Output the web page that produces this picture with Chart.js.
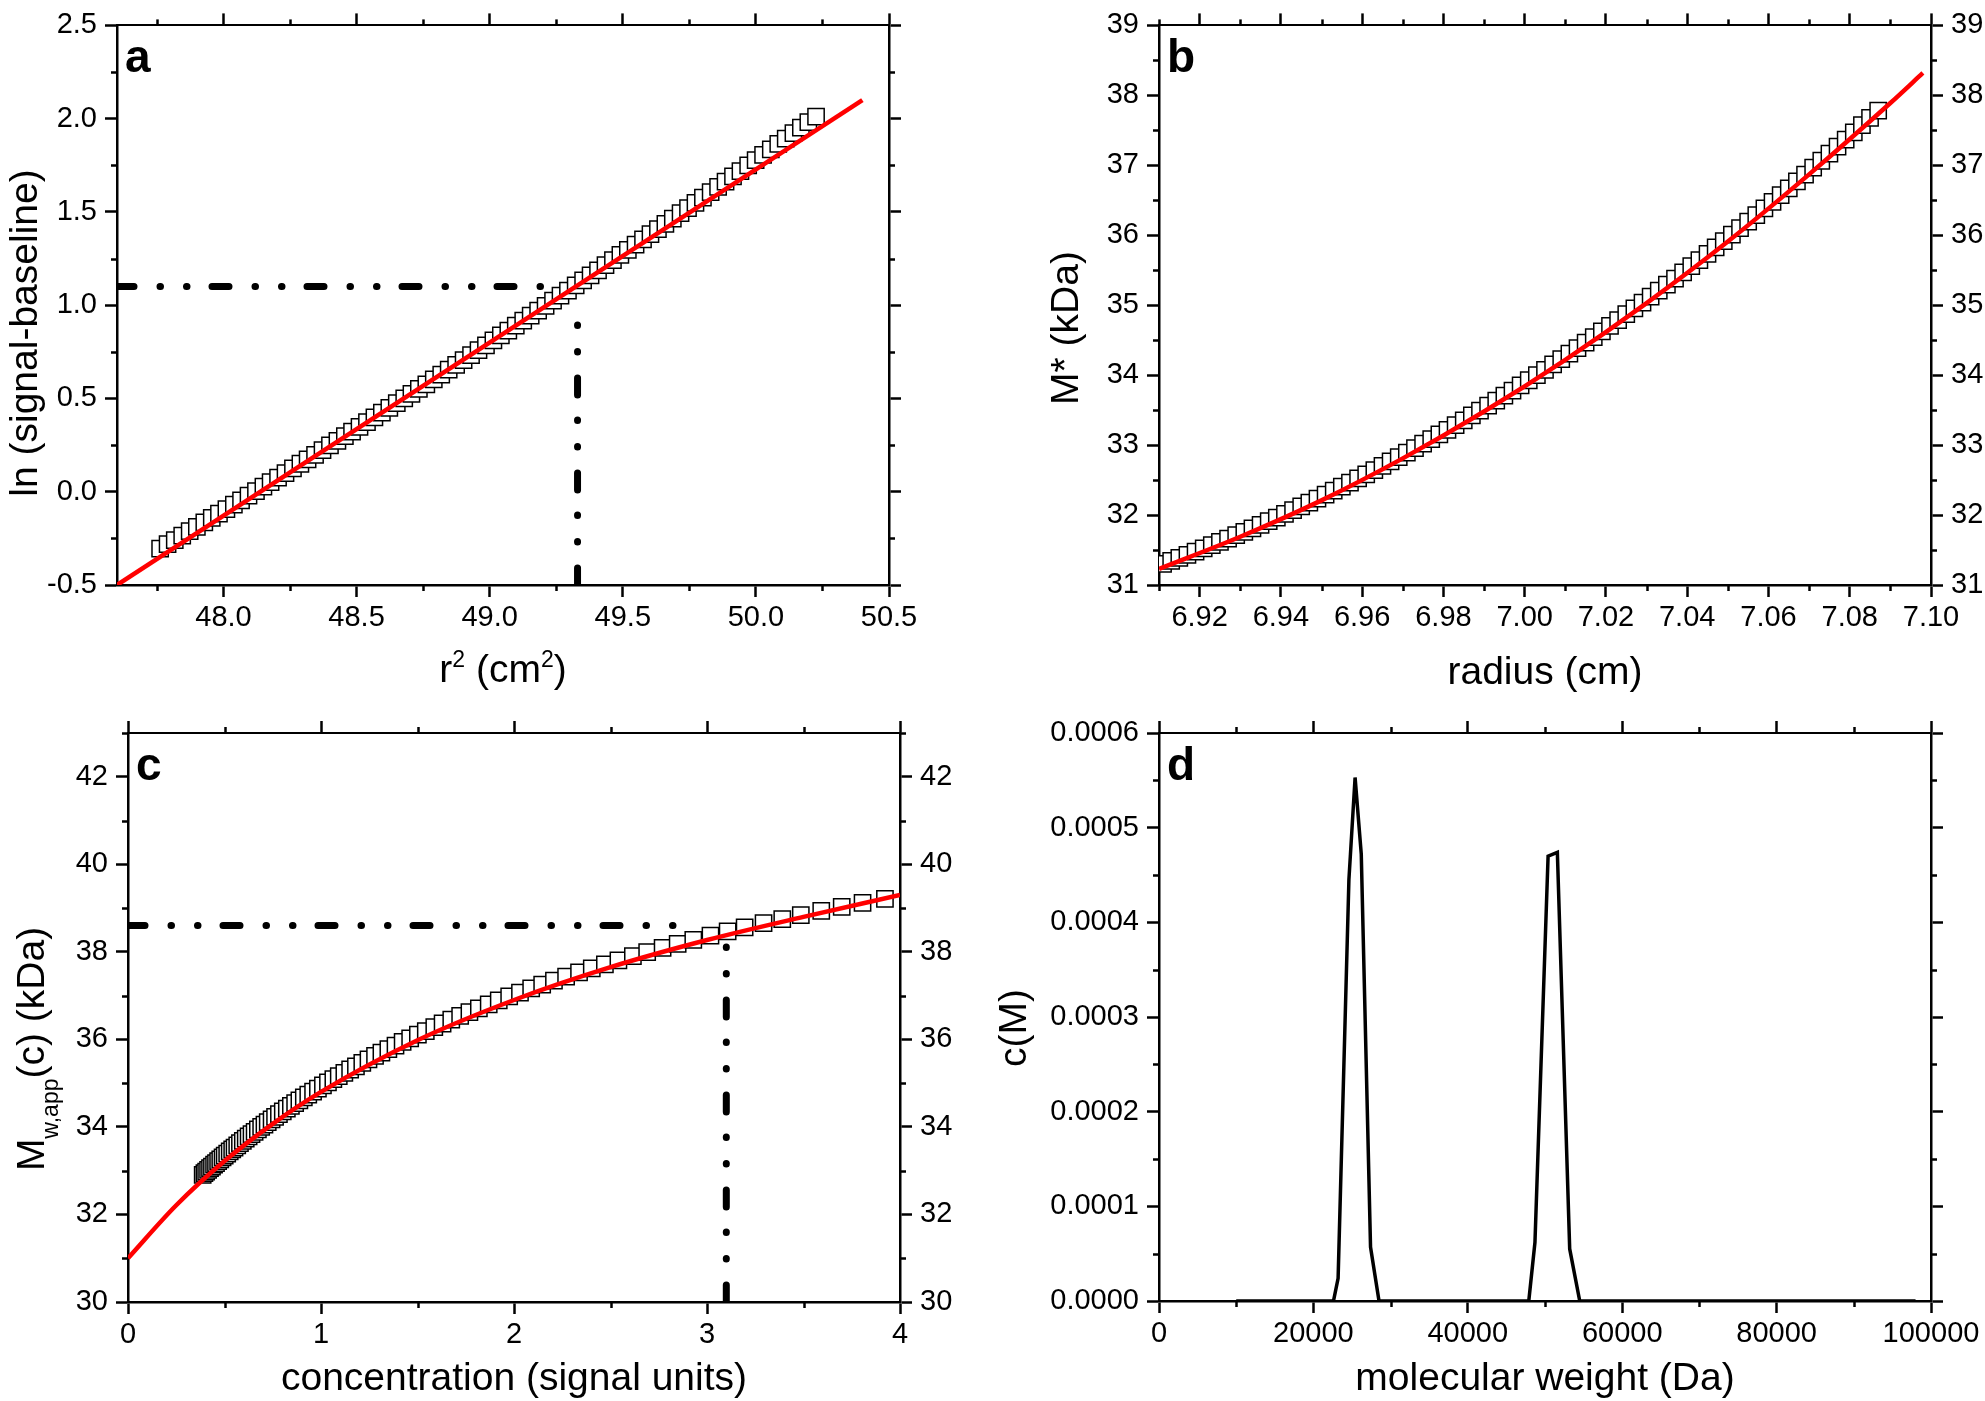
<!DOCTYPE html>
<html>
<head>
<meta charset="utf-8">
<script src="https://cdn.jsdelivr.net/npm/chart.js@4.4.1/dist/chart.umd.min.js"></script>
<style>
  html, body { margin: 0; padding: 0; background: #fff; }
  body { width: 1985px; height: 1401px; position: relative; overflow: hidden; }
  canvas { position: absolute; }
</style>
</head>
<body>
<canvas id="chartA" width="992" height="700" style="left:0;top:0"></canvas>
<canvas id="chartB" width="993" height="700" style="left:992px;top:0"></canvas>
<canvas id="chartC" width="992" height="701" style="left:0;top:700px"></canvas>
<canvas id="chartD" width="993" height="701" style="left:992px;top:700px"></canvas>
<script>
// ---- data ----
// scan points (same radial positions in a, b and c)
const radius = [
  6.911, 6.913, 6.915, 6.917, 6.919, 6.921, 6.923, 6.925, 6.927, 6.929,
  6.931, 6.933, 6.935, 6.937, 6.939, 6.941, 6.943, 6.945, 6.947, 6.949,
  6.951, 6.953, 6.955, 6.957, 6.959, 6.961, 6.963, 6.965, 6.967, 6.969,
  6.971, 6.973, 6.975, 6.977, 6.979, 6.981, 6.983, 6.985, 6.987, 6.989,
  6.991, 6.993, 6.995, 6.997, 6.999, 7.001, 7.003, 7.005, 7.007, 7.009,
  7.011, 7.013, 7.015, 7.017, 7.019, 7.021, 7.023, 7.025, 7.027, 7.029,
  7.031, 7.033, 7.035, 7.037, 7.039, 7.041, 7.043, 7.045, 7.047, 7.049,
  7.051, 7.053, 7.055, 7.057, 7.059, 7.061, 7.063, 7.065, 7.067, 7.069,
  7.071, 7.073, 7.075, 7.077, 7.079, 7.081, 7.083, 7.085, 7.087
];
const mStar = [
  31.302, 31.345, 31.388, 31.432, 31.477, 31.522, 31.569, 31.616, 31.663, 31.712,
  31.761, 31.811, 31.861, 31.912, 31.964, 32.017, 32.070, 32.124, 32.179, 32.235,
  32.291, 32.348, 32.405, 32.464, 32.523, 32.582, 32.643, 32.704, 32.766, 32.829,
  32.892, 32.956, 33.021, 33.086, 33.152, 33.219, 33.287, 33.355, 33.424, 33.494,
  33.564, 33.635, 33.707, 33.780, 33.853, 33.927, 34.002, 34.077, 34.153, 34.230,
  34.308, 34.386, 34.465, 34.545, 34.625, 34.706, 34.788, 34.871, 34.954, 35.038,
  35.123, 35.208, 35.294, 35.381, 35.468, 35.557, 35.646, 35.735, 35.826, 35.917,
  36.009, 36.101, 36.194, 36.288, 36.383, 36.478, 36.574, 36.671, 36.769, 36.867,
  36.966, 37.065, 37.166, 37.267, 37.368, 37.471, 37.574, 37.678, 37.783
];
const rSquared = [
  47.762, 47.790, 47.817, 47.845, 47.873, 47.900, 47.928, 47.956, 47.983, 48.011,
  48.039, 48.066, 48.094, 48.122, 48.150, 48.177, 48.205, 48.233, 48.261, 48.289,
  48.316, 48.344, 48.372, 48.400, 48.428, 48.456, 48.483, 48.511, 48.539, 48.567,
  48.595, 48.623, 48.651, 48.679, 48.706, 48.734, 48.762, 48.790, 48.818, 48.846,
  48.874, 48.902, 48.930, 48.958, 48.986, 49.014, 49.042, 49.070, 49.098, 49.126,
  49.154, 49.182, 49.210, 49.238, 49.266, 49.294, 49.323, 49.351, 49.379, 49.407,
  49.435, 49.463, 49.491, 49.519, 49.548, 49.576, 49.604, 49.632, 49.660, 49.688,
  49.717, 49.745, 49.773, 49.801, 49.830, 49.858, 49.886, 49.914, 49.942, 49.971,
  49.999, 50.027, 50.056, 50.084, 50.112, 50.141, 50.169, 50.197, 50.226
];
const lnSignal = [
  -0.305, -0.281, -0.259, -0.235, -0.211, -0.188, -0.164, -0.140, -0.117, -0.093,
  -0.069, -0.046, -0.021, 0.003, 0.028, 0.051, 0.076, 0.100, 0.125, 0.150,
  0.174, 0.198, 0.223, 0.248, 0.273, 0.298, 0.322, 0.348, 0.373, 0.398,
  0.424, 0.449, 0.475, 0.500, 0.525, 0.551, 0.576, 0.602, 0.628, 0.654,
  0.680, 0.706, 0.732, 0.759, 0.785, 0.811, 0.838, 0.864, 0.891, 0.917,
  0.944, 0.971, 0.997, 1.024, 1.051, 1.078, 1.106, 1.133, 1.160, 1.187,
  1.215, 1.242, 1.270, 1.297, 1.325, 1.353, 1.381, 1.408, 1.436, 1.464,
  1.493, 1.521, 1.549, 1.577, 1.606, 1.634, 1.663, 1.691, 1.719, 1.749,
  1.778, 1.806, 1.836, 1.865, 1.893, 1.923, 1.952, 1.981, 2.011
];
const concentration = [
  0.387, 0.396, 0.405, 0.415, 0.425, 0.435, 0.446, 0.456, 0.467, 0.478,
  0.490, 0.501, 0.514, 0.527, 0.540, 0.552, 0.566, 0.580, 0.595, 0.610,
  0.625, 0.640, 0.656, 0.673, 0.690, 0.707, 0.724, 0.744, 0.762, 0.782,
  0.802, 0.823, 0.844, 0.866, 0.888, 0.911, 0.934, 0.959, 0.984, 1.010,
  1.036, 1.064, 1.092, 1.121, 1.151, 1.181, 1.214, 1.246, 1.280, 1.313,
  1.349, 1.386, 1.423, 1.462, 1.502, 1.543, 1.587, 1.630, 1.675, 1.721,
  1.769, 1.818, 1.869, 1.921, 1.975, 2.031, 2.089, 2.146, 2.207, 2.270,
  2.337, 2.403, 2.471, 2.541, 2.616, 2.690, 2.770, 2.848, 2.929, 3.018,
  3.107, 3.195, 3.293, 3.390, 3.486, 3.592, 3.698, 3.806, 3.922
];
const mwApp = [
  32.907, 32.942, 32.978, 33.017, 33.056, 33.095, 33.137, 33.175, 33.217, 33.259,
  33.303, 33.344, 33.392, 33.439, 33.486, 33.529, 33.579, 33.628, 33.680, 33.732,
  33.783, 33.834, 33.888, 33.944, 34.000, 34.055, 34.110, 34.173, 34.229, 34.292,
  34.353, 34.416, 34.479, 34.544, 34.608, 34.673, 34.739, 34.808, 34.877, 34.948,
  35.017, 35.091, 35.163, 35.237, 35.312, 35.386, 35.466, 35.542, 35.622, 35.697,
  35.779, 35.860, 35.941, 36.024, 36.107, 36.191, 36.279, 36.363, 36.449, 36.536,
  36.624, 36.711, 36.801, 36.890, 36.980, 37.071, 37.163, 37.251, 37.343, 37.435,
  37.531, 37.623, 37.715, 37.807, 37.903, 37.995, 38.091, 38.182, 38.274, 38.372,
  38.467, 38.557, 38.655, 38.749, 38.838, 38.934, 39.026, 39.117, 39.211
];

// red fit curves
const fitA_x = [47.6, 50.4];
const fitA_y = [-0.5, 2.1];
const fitB_x = [6.91, 6.93, 6.95, 6.97, 6.99, 7.01, 7.03, 7.05, 7.07, 7.09, 7.098];
const fitB_y = [31.23, 31.69, 32.21, 32.81, 33.48, 34.22, 35.03, 35.91, 36.87, 37.89, 38.32];
const fitC_x = [0, 0.25, 0.5, 0.75, 1, 1.5, 2, 2.5, 3, 3.5, 4];
const fitC_y = [31.0, 32.21, 33.22, 34.07, 34.8, 35.98, 36.9, 37.65, 38.27, 38.8, 39.3];

// dash-dot guide lines
const guideA_h = { x: [47.6, 49.23], y: [1.1, 1.1] };
const guideA_v = { x: [49.33, 49.33], y: [-0.5, 0.93] };
const guideC_h = { x: [0, 2.86], y: [38.6, 38.6] };
const guideC_v = { x: [3.1, 3.1], y: [30, 38.17] };

// c(M) distribution
const molWeight = [10000, 22600, 23200, 24600, 25400, 26200, 27400, 28500, 47900, 48700, 50400, 51600, 53200, 54500, 98000];
const cM = [0, 0, 0.000024, 0.000445, 0.000553, 0.000472, 0.000057, 0, 0, 0.000062, 0.00047, 0.000474, 0.000055, 0, 0];

// tick labels
const ticksA_x = [48.0, 48.5, 49.0, 49.5, 50.0, 50.5];
const ticksA_y = [-0.5, 0.0, 0.5, 1.0, 1.5, 2.0, 2.5];
const ticksB_x = [6.92, 6.94, 6.96, 6.98, 7.00, 7.02, 7.04, 7.06, 7.08, 7.10];
const ticksB_y = [31, 32, 33, 34, 35, 36, 37, 38, 39];
const ticksC_x = [0, 1, 2, 3, 4];
const ticksC_y = [30, 32, 34, 36, 38, 40, 42];
const ticksD_x = [0, 20000, 40000, 60000, 80000, 100000];
const ticksD_y = [0, 0.0001, 0.0002, 0.0003, 0.0004, 0.0005, 0.0006];

// ---- helpers ----
Chart.defaults.font.family = '"Liberation Sans", Arial, sans-serif';
Chart.defaults.color = '#000';

const FAMILY = '"Liberation Sans", Arial, sans-serif';

function pts(xs, ys) {
  return xs.map((x, i) => ({ x: x, y: ys[i] }));
}

function squares(xs, ys) {
  return {
    data: pts(xs, ys), showLine: false, pointStyle: 'rect', pointRadius: 11.5,
    pointBorderWidth: 1.5, pointBackgroundColor: '#fff', pointBorderColor: '#000', order: 2
  };
}

function redFit(xs, ys) {
  return {
    data: pts(xs, ys), showLine: true, borderColor: '#ff0000', borderWidth: 4.5,
    pointRadius: 0, cubicInterpolationMode: 'monotone', order: 1
  };
}

function dashDot(g) {
  return {
    data: pts(g.x, g.y), showLine: true, borderColor: '#000', borderWidth: 7,
    borderDash: [17, 26, 0.5, 26, 0.5, 25], borderCapStyle: 'round',
    pointRadius: 0, order: 0
  };
}

function scaleDef(position, min, max, majors, fmt, showLabels, size) {
  const horizontal = position === 'top' || position === 'bottom';
  return {
    type: 'linear', position: position, min: min, max: max,
    grid: { display: true, drawOnChartArea: false, drawTicks: true, tickLength: 12, tickWidth: 2.5, tickColor: '#000' },
    border: { display: true, color: '#000', width: position === 'top' ? 2 : 2.5 },
    ticks: {
      autoSkip: false, maxRotation: 0, minRotation: 0,
      padding: horizontal ? 4 : 8,
      color: '#000',
      font: { size: 29 },
      callback: v => showLabels ? fmt(v) : ''
    },
    afterBuildTicks: s => { s.ticks = majors.map(v => ({ value: v })); },
    afterFit: s => { if (horizontal) s.height = size; else s.width = size; }
  };
}

function partFont(p, base) {
  const small = p.sup || p.sub;
  const size = small ? Math.round(base.size * 0.6) : base.size;
  return 'normal ' + size + 'px ' + FAMILY;
}

function drawRich(ctx, parts, base, cx, cy, rotate) {
  ctx.save();
  ctx.translate(cx, cy);
  if (rotate) ctx.rotate(-Math.PI / 2);
  ctx.textBaseline = 'alphabetic';
  ctx.textAlign = 'left';
  ctx.fillStyle = '#000';
  let total = 0;
  const widths = parts.map(p => {
    ctx.font = partFont(p, base);
    const w = ctx.measureText(p.t).width;
    total += w;
    return w;
  });
  let x = -total / 2;
  parts.forEach((p, i) => {
    ctx.font = partFont(p, base);
    const dy = p.sup ? -base.size * 0.38 : (p.sub ? base.size * 0.36 : 0);
    ctx.fillText(p.t, x, dy);
    x += widths[i];
  });
  ctx.restore();
}

// minor ticks, axis titles and panel letter
const panelDecor = {
  id: 'panelDecor',
  afterDraw(chart, args, opts) {
    const ctx = chart.ctx;
    const area = chart.chartArea;
    ctx.save();
    ctx.strokeStyle = '#000';
    ctx.lineWidth = 2.5;
    Object.values(chart.scales).forEach(scale => {
      const step = opts.minor[scale.axis];
      const majors = scale.ticks.map(t => t.value);
      const k0 = Math.ceil(scale.min / step - 1e-6);
      const k1 = Math.floor(scale.max / step + 1e-6);
      for (let k = k0; k <= k1; k++) {
        const v = k * step;
        if (majors.some(m => Math.abs(m - v) < step * 1e-3)) continue;
        const p = Math.round(scale.getPixelForValue(v)) + 0.5;
        ctx.beginPath();
        if (scale.position === 'bottom') { ctx.moveTo(p, area.bottom); ctx.lineTo(p, area.bottom + 6); }
        if (scale.position === 'top') { ctx.moveTo(p, area.top); ctx.lineTo(p, area.top - 6); }
        if (scale.position === 'left') { ctx.moveTo(area.left, p); ctx.lineTo(area.left - 6, p); }
        if (scale.position === 'right') { ctx.moveTo(area.right, p); ctx.lineTo(area.right + 6, p); }
        ctx.stroke();
      }
    });
    ctx.restore();

    const cx = (area.left + area.right) / 2;
    drawRich(ctx, opts.xTitle, { size: 39 }, cx, opts.xTitleY, false);
    drawRich(ctx, opts.yTitle, { size: 39 }, opts.yTitleX, opts.yTitleY, true);

    ctx.save();
    ctx.font = 'bold 46px ' + FAMILY;
    ctx.fillStyle = '#000';
    ctx.textBaseline = 'alphabetic';
    ctx.fillText(opts.letter, area.left + 8, area.top + 47);
    ctx.restore();
  }
};

function makeChart(id, datasets, scales, decor) {
  return new Chart(document.getElementById(id).getContext('2d'), {
    type: 'scatter',
    data: { datasets: datasets },
    options: {
      responsive: false, animation: false, devicePixelRatio: 1, events: [],
      layout: { padding: 0, autoPadding: false },
      plugins: { legend: { display: false }, tooltip: { enabled: false }, panelDecor: decor },
      scales: scales
    },
    plugins: [panelDecor]
  });
}

const f1 = v => v.toFixed(1);
const f2 = v => v.toFixed(2);
const f4 = v => v.toFixed(4);
const fi = v => String(v);

// panel a
makeChart('chartA',
  [squares(rSquared, lnSignal), redFit(fitA_x, fitA_y), dashDot(guideA_h), dashDot(guideA_v)],
  {
    x: scaleDef('bottom', 47.6, 50.5, ticksA_x, f1, true, 115),
    x2: scaleDef('top', 47.6, 50.5, ticksA_x, f1, false, 17),
    y: scaleDef('left', -0.5, 2.5, ticksA_y, f1, true, 117),
    y2: scaleDef('right', -0.5, 2.5, ticksA_y, f1, false, 103)
  },
  {
    minor: { x: 0.25, y: 0.25 }, letter: 'a',
    xTitle: [{ t: 'r' }, { t: '2', sup: true }, { t: ' (cm' }, { t: '2', sup: true }, { t: ')' }], xTitleY: 682,
    yTitle: [{ t: 'ln (signal-baseline)' }], yTitleX: 37, yTitleY: 333
  });

// panel b
makeChart('chartB',
  [squares(radius, mStar), redFit(fitB_x, fitB_y)],
  {
    x: scaleDef('bottom', 6.91, 7.10, ticksB_x, f2, true, 115),
    x2: scaleDef('top', 6.91, 7.10, ticksB_x, f2, false, 17),
    y: scaleDef('left', 31, 39, ticksB_y, fi, true, 167),
    y2: scaleDef('right', 31, 39, ticksB_y, fi, true, 54)
  },
  {
    minor: { x: 0.01, y: 0.5 }, letter: 'b',
    xTitle: [{ t: 'radius (cm)' }], xTitleY: 684,
    yTitle: [{ t: 'M* (kDa)' }], yTitleX: 86, yTitleY: 328
  });

// panel c
makeChart('chartC',
  [squares(concentration, mwApp), redFit(fitC_x, fitC_y), dashDot(guideC_h), dashDot(guideC_v)],
  {
    x: scaleDef('bottom', 0, 4, ticksC_x, fi, true, 99),
    x2: scaleDef('top', 0, 4, ticksC_x, fi, false, 33),
    y: scaleDef('left', 30, 43, ticksC_y, fi, true, 128),
    y2: scaleDef('right', 30, 43, ticksC_y, fi, true, 92)
  },
  {
    minor: { x: 0.5, y: 1 }, letter: 'c',
    xTitle: [{ t: 'concentration (signal units)' }], xTitleY: 690,
    yTitle: [{ t: 'M' }, { t: 'w,app', sub: true }, { t: '(c) (kDa)' }], yTitleX: 44, yTitleY: 349
  });

// panel d
makeChart('chartD',
  [{ data: pts(molWeight, cM), showLine: true, borderColor: '#000', borderWidth: 3.5, pointRadius: 0, tension: 0 }],
  {
    x: scaleDef('bottom', 0, 100000, ticksD_x, fi, true, 100),
    x2: scaleDef('top', 0, 100000, ticksD_x, fi, false, 33),
    y: scaleDef('left', 0, 0.0006, ticksD_y, f4, true, 167),
    y2: scaleDef('right', 0, 0.0006, ticksD_y, f4, false, 54)
  },
  {
    minor: { x: 10000, y: 0.00005 }, letter: 'd',
    xTitle: [{ t: 'molecular weight (Da)' }], xTitleY: 690,
    yTitle: [{ t: 'c(M)' }], yTitleX: 34, yTitleY: 328
  });
</script>
</body>
</html>
